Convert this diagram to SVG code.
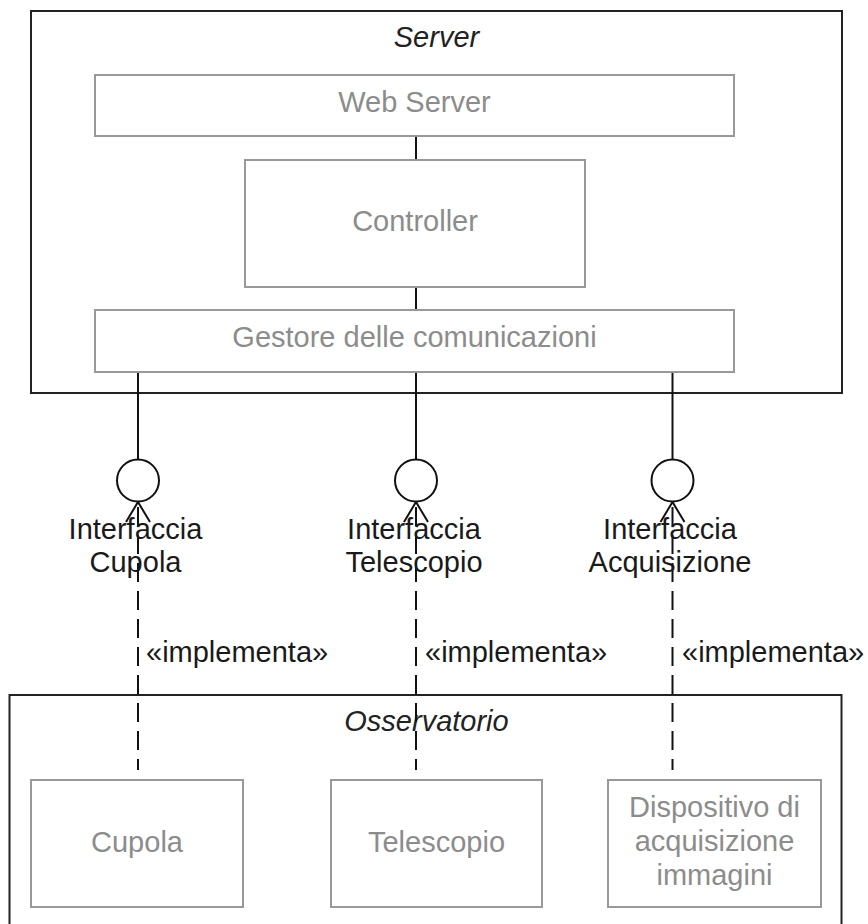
<svg xmlns="http://www.w3.org/2000/svg" width="868" height="924" viewBox="0 0 868 924">
<style>
  text { font-family: "Liberation Sans", Arial, sans-serif; font-size: 29px; }
  .container { fill: #ffffff; stroke: #222222; stroke-width: 2; }
  .part { fill: #ffffff; stroke: #999999; stroke-width: 2; }
  .ptext { fill: #8c8c8c; text-anchor: middle; }
  .ctitle { fill: #222222; text-anchor: middle; font-style: italic; }
  .label { fill: #1a1a1a; text-anchor: middle; }
  .stereo { fill: #1a1a1a; }
  .wire { stroke: #111111; stroke-width: 2; fill: none; }
  .dash { stroke: #111111; stroke-width: 2; fill: none; stroke-dasharray: 19 9; stroke-dashoffset: 23; }
  .iface { fill: #ffffff; stroke: #111111; stroke-width: 2; }
</style>
<rect width="868" height="924" fill="#ffffff"/>

<g id="server">
  <rect class="container" x="31" y="11" width="811" height="382"/>
  <text class="ctitle" x="436.5" y="47">Server</text>
</g>
<g id="osservatorio">
  <rect class="container" x="9.5" y="695" width="832" height="260"/>
  <text class="ctitle" x="426.5" y="731">Osservatorio</text>
</g>

<g id="connectors">
  <line class="wire" x1="416" y1="136" x2="416" y2="160"/>
  <line class="wire" x1="416" y1="287" x2="416" y2="310"/>
  <line class="wire" x1="138" y1="372" x2="138" y2="459.5"/>
  <line class="wire" x1="416" y1="372" x2="416" y2="459.5"/>
  <line class="wire" x1="672.5" y1="372" x2="672.5" y2="459.5"/>
  <line class="dash" x1="138" y1="502" x2="138" y2="770"/>
  <line class="dash" x1="416" y1="502" x2="416" y2="770"/>
  <line class="dash" x1="672.5" y1="502" x2="672.5" y2="770"/>
  <polyline class="wire" points="126,522 138,502 150,522"/>
  <polyline class="wire" points="404,522 416,502 428,522"/>
  <polyline class="wire" points="660.5,522 672.5,502 684.5,522"/>
  <text class="stereo" x="146" y="662">«implementa»</text>
  <text class="stereo" x="425" y="662">«implementa»</text>
  <text class="stereo" x="682" y="662">«implementa»</text>
</g>

<g id="web-server">
  <rect class="part" x="95" y="75" width="639" height="61"/>
  <text class="ptext" x="414.5" y="112">Web Server</text>
</g>
<g id="controller">
  <rect class="part" x="245" y="160" width="340" height="127"/>
  <text class="ptext" x="415" y="231">Controller</text>
</g>
<g id="gestore">
  <rect class="part" x="95" y="310" width="639" height="62"/>
  <text class="ptext" x="414.5" y="347">Gestore delle comunicazioni</text>
</g>

<g id="interfaccia-cupola">
  <circle class="iface" cx="138" cy="480.5" r="21"/>
  <text class="label" x="135.5" y="539">Interfaccia</text>
  <text class="label" x="135.5" y="572">Cupola</text>
</g>
<g id="interfaccia-telescopio">
  <circle class="iface" cx="416" cy="480.5" r="21"/>
  <text class="label" x="414" y="539">Interfaccia</text>
  <text class="label" x="414" y="572">Telescopio</text>
</g>
<g id="interfaccia-acquisizione">
  <circle class="iface" cx="672.5" cy="480.5" r="21"/>
  <text class="label" x="670" y="539">Interfaccia</text>
  <text class="label" x="670" y="572">Acquisizione</text>
</g>

<g id="cupola">
  <rect class="part" x="31" y="780" width="212" height="127"/>
  <text class="ptext" x="137" y="852">Cupola</text>
</g>
<g id="telescopio">
  <rect class="part" x="331" y="780" width="211" height="127"/>
  <text class="ptext" x="436.5" y="852">Telescopio</text>
</g>
<g id="dispositivo">
  <rect class="part" x="608" y="780" width="213" height="127"/>
  <text class="ptext" x="714.5" y="817">Dispositivo di</text>
  <text class="ptext" x="714.5" y="851">acquisizione</text>
  <text class="ptext" x="714.5" y="885">immagini</text>
</g>
</svg>
